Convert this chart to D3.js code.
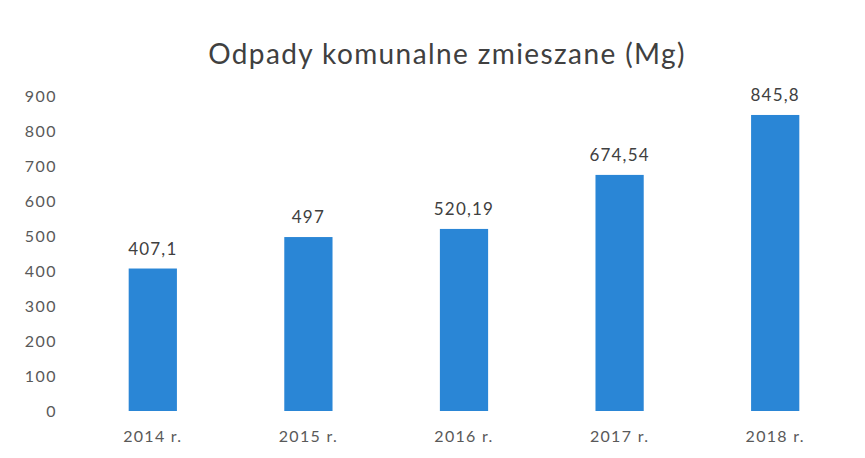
<!DOCTYPE html>
<html>
<head>
<meta charset="utf-8">
<script src="https://cdn.jsdelivr.net/npm/d3@7"></script>
<style>
  body { margin: 0; background: #fff; }
  text { font-family: Lato, "Open Sans", sans-serif; }
</style>
</head>
<body>
<svg width="865" height="458"></svg>
<script>
var years = ["2014 r.", "2015 r.", "2016 r.", "2017 r.", "2018 r."];
var values = [407.1, 497, 520.19, 674.54, 845.8];
var labels = ["407,1", "497", "520,19", "674,54", "845,8"];
var yTicks = [0, 100, 200, 300, 400, 500, 600, 700, 800, 900];

var svg = d3.select("svg"),
    margin = {top: 96, right: 12, bottom: 47, left: 75},
    width = 865 - margin.left - margin.right,
    height = 458 - margin.top - margin.bottom,
    g = svg.append("g").attr("transform", "translate(" + margin.left + "," + margin.top + ")");

var x = d3.scaleBand()
    .domain(years)
    .range([0, width])
    .paddingInner(0.69)
    .paddingOuter(0.345);
var y = d3.scaleLinear()
    .domain([0, 900])
    .range([height, 0]);

svg.append("text")
    .attr("x", 447)
    .attr("y", 64)
    .attr("text-anchor", "middle")
    .attr("font-size", 28)
    .attr("letter-spacing", 1.4)
    .attr("fill", "#404040")
    .text("Odpady komunalne zmieszane (Mg)");

// y axis, labels only
var yAxis = g.append("g")
    .call(d3.axisLeft(y).tickValues(yTicks).tickSize(0).tickPadding(18));
yAxis.select(".domain").remove();
yAxis.selectAll("text")
    .attr("font-size", 16)
    .attr("letter-spacing", 1.5)
    .attr("fill", "#595959")
    .style("font-family", "Lato, 'Open Sans', sans-serif");

// x axis, labels only
var xAxis = g.append("g")
    .attr("transform", "translate(0," + height + ")")
    .call(d3.axisBottom(x).tickSize(0).tickPadding(20));
xAxis.select(".domain").remove();
xAxis.selectAll("text")
    .attr("font-size", 16)
    .attr("letter-spacing", 1.3)
    .attr("fill", "#595959")
    .style("font-family", "Lato, 'Open Sans', sans-serif");

g.selectAll(".bar")
    .data(values)
    .enter().append("rect")
    .attr("class", "bar")
    .attr("x", function(d, i) { return x(years[i]); })
    .attr("y", function(d) { return y(d); })
    .attr("width", x.bandwidth())
    .attr("height", function(d) { return height - y(d); })
    .attr("fill", "#2a86d6");

g.selectAll(".val")
    .data(values)
    .enter().append("text")
    .attr("class", "val")
    .attr("x", function(d, i) { return x(years[i]) + x.bandwidth() / 2; })
    .attr("y", function(d) { return y(d) - 14; })
    .attr("text-anchor", "middle")
    .attr("font-size", 17)
    .attr("letter-spacing", 1.2)
    .attr("fill", "#404040")
    .text(function(d, i) { return labels[i]; });
</script>
</body>
</html>
